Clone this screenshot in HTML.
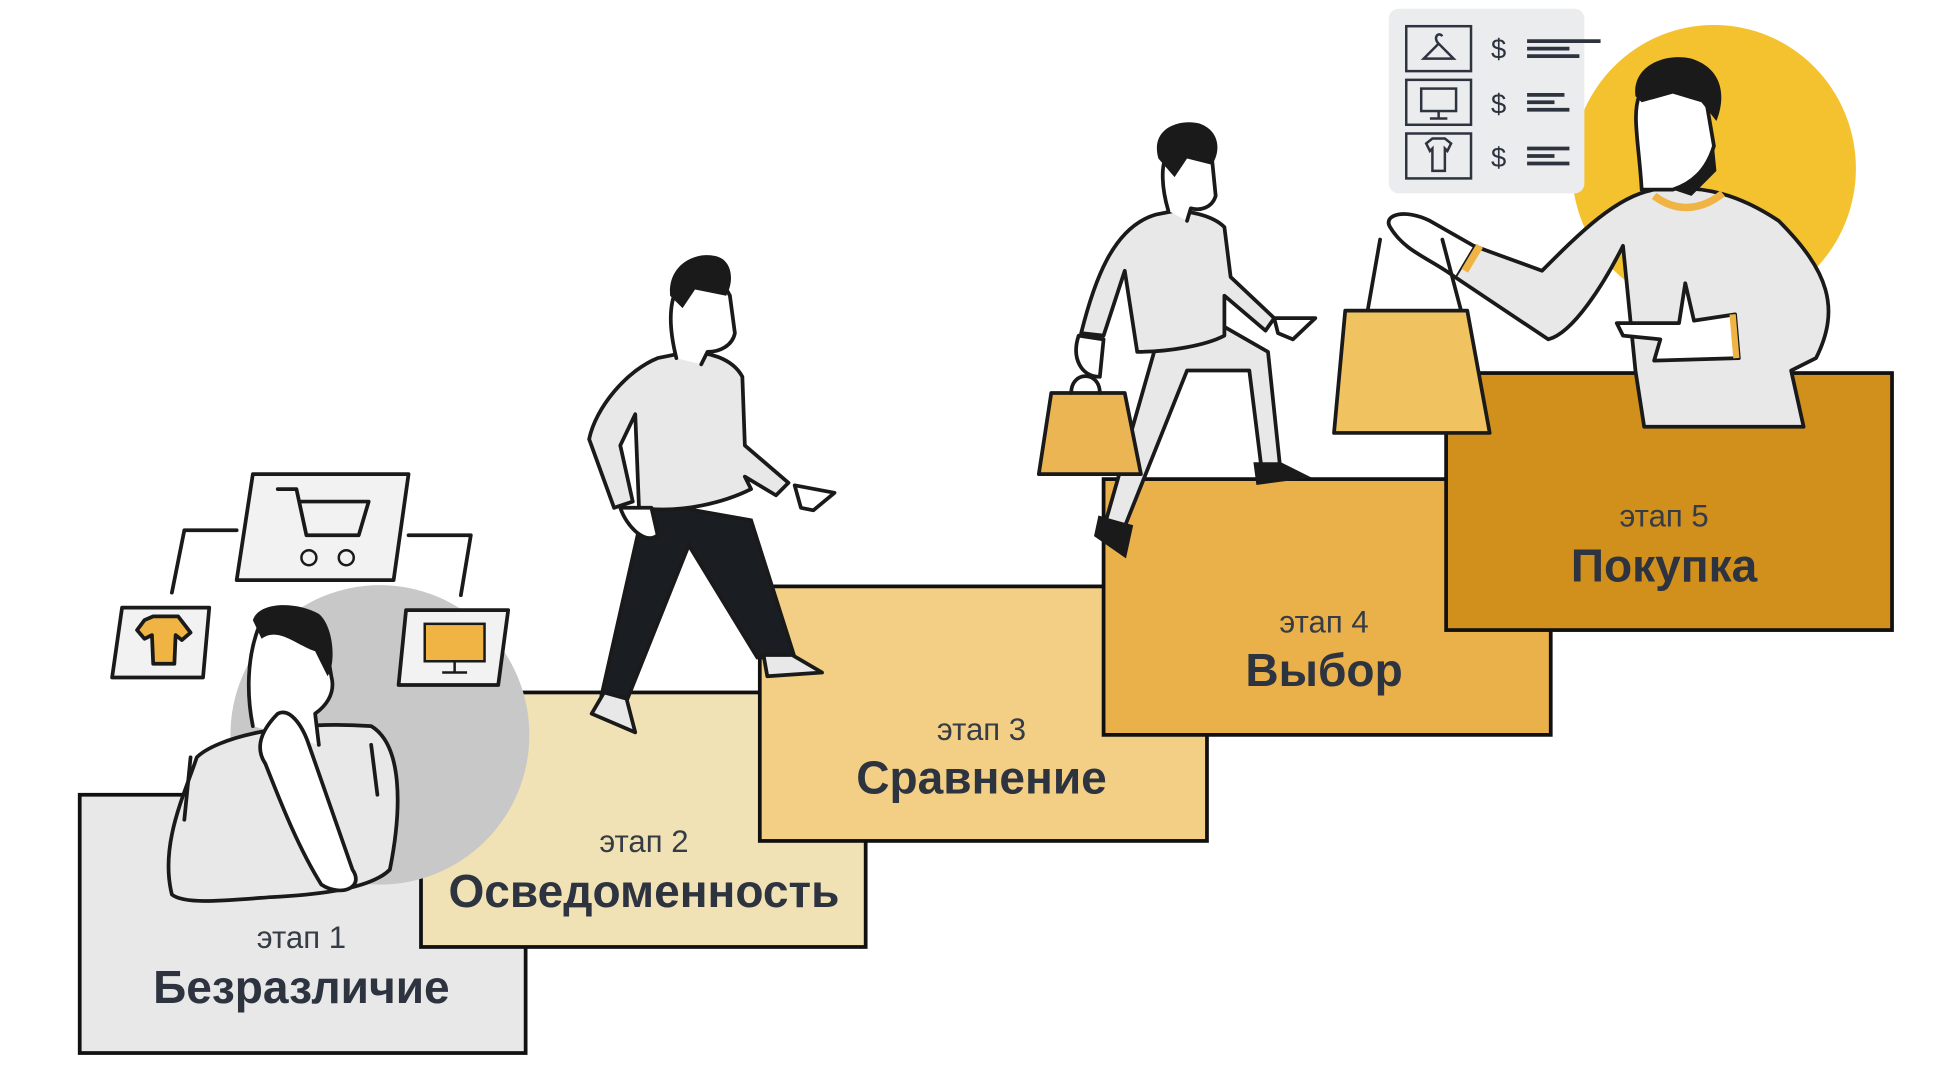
<!DOCTYPE html>
<html><head><meta charset="utf-8"><style>
html,body{margin:0;padding:0;background:#fff;width:1947px;height:1068px;overflow:hidden}
svg{display:block}
.s{font-family:"Liberation Sans",sans-serif;font-size:25px;fill:#363c46;text-anchor:middle}
.t{font-family:"Liberation Sans",sans-serif;font-size:37px;font-weight:bold;fill:#2d3440;text-anchor:middle}
.o{stroke:#1a1a1a;stroke-width:3;stroke-linejoin:round;stroke-linecap:round}
</style></head><body>
<svg width="1947" height="1068" viewBox="0 0 1560 856" preserveAspectRatio="none">
<g transform="translate(-2,-3) scale(0.998,1)">
<ellipse cx="1378" cy="138" rx="114" ry="115" fill="#f4c22e"/>
<rect x="66" y="640" width="358" height="207" fill="#e8e8e8" stroke="#111" stroke-width="3"/>
<rect x="340" y="558" width="357" height="204" fill="#f1e2b5" stroke="#111" stroke-width="3"/>
<circle cx="307" cy="592" r="120" fill="#c8c8c8"/>
<path class="o" d="M140 720 C130 680 150 640 160 610 C175 595 230 580 300 585 C325 600 325 650 315 700 C300 715 260 720 220 722 C180 725 150 728 140 720Z" fill="#e8e8e8"/>
<path class="o" d="M205 585 C200 560 200 530 210 505 C220 488 255 490 262 510 L268 545 C272 560 262 570 255 575 L258 600" fill="#fff"/>
<path d="M205 500 C210 485 240 485 258 495 C270 505 272 535 265 545 L255 525 C240 520 225 505 212 515Z" fill="#1a1a1a"/>
<path class="o" d="M225 575 C215 585 205 600 215 615 C225 640 240 680 260 712 C275 722 295 715 285 700 L250 600 C245 585 235 570 225 575Z" fill="#fff"/>
<path class="o" d="M155 610 L150 660 M300 600 L305 640" fill="none"/>
<rect x="612" y="473" width="359" height="204" fill="#f2cf85" stroke="#111" stroke-width="3"/>
<rect x="888" y="387" width="359" height="205" fill="#eab04a" stroke="#111" stroke-width="3"/>
<rect x="1163" y="302" width="358" height="206" fill="#d18f1c" stroke="#111" stroke-width="3"/>
<path class="o" d="M192 428 L150 428 L140 478 M330 432 L380 432 L372 480" fill="none" stroke-width="2"/>
<polygon class="o" points="205,383 330,383 318,468 192,468" fill="#f2f2f2" stroke-width="2"/>
<path class="o" d="M225 395 L240 395 L248 432 L290 432 L298 405 L243 405" fill="none" stroke-width="2.5"/>
<circle cx="250" cy="450" r="6" fill="none" stroke="#1a1a1a" stroke-width="2"/><circle cx="280" cy="450" r="6" fill="none" stroke="#1a1a1a" stroke-width="2"/>
<polygon class="o" points="100,490 170,490 165,546 92,546" fill="#f2f2f2" stroke-width="2"/>
<path class="o" d="M118 500 L125 497 L145 497 L155 510 L148 516 L143 512 L142 535 L125 535 L124 512 L118 515 L112 508Z" fill="#efb443" stroke-width="2"/>
<polygon class="o" points="328,492 410,492 402,552 322,552" fill="#f2f2f2" stroke-width="2"/>
<rect x="343" y="503" width="48" height="30" fill="#efb443" stroke="#1a1a1a" stroke-width="2"/>
<path d="M367 533 L367 541 M357 542 L377 542" stroke="#1a1a1a" stroke-width="2"/>
<path d="M520 405 L485 560 L505 565 L555 440 L610 530 L640 530 L605 420 Z" fill="#1a1d22" stroke="#1a1a1a" stroke-width="3"/>
<path class="o" d="M487 558 L477 575 L512 590 L505 563Z M615 528 L618 545 L662 542 L638 528Z" fill="#e8e8e8"/>
<path class="o" d="M530 290 C505 300 480 330 475 355 L495 410 L510 405 L500 360 L512 335 L515 410 C550 415 585 405 605 395 L600 385 L625 400 L635 390 L600 360 L598 305 C590 290 570 285 555 285Z" fill="#e8e8e8"/>
<path class="o" d="M545 290 C540 270 538 250 545 235 C555 220 580 222 588 240 L592 270 C590 280 580 285 570 285 L565 295" fill="#fff"/>
<path d="M540 240 C538 215 560 205 575 208 C590 210 592 228 585 240 L560 235 L550 250Z" fill="#1a1a1a"/>
<path class="o" d="M640 392 L672 398 L655 412 L645 410Z M500 410 C505 425 520 440 530 432 L525 410Z" fill="#fff"/>
<path class="o" d="M930 280 L890 420 L905 425 L955 300 L1005 300 L1015 380 L1030 380 L1020 285 L985 265Z" fill="#e8e8e8"/>
<path d="M885 418 L882 432 L905 448 L910 425Z M1010 375 L1012 390 L1050 385 L1030 375Z" fill="#1a1a1a" stroke="#1a1a1a" stroke-width="3"/>
<path class="o" d="M930 175 C895 185 880 230 870 270 L888 272 L905 220 L915 285 C940 285 970 280 985 272 L985 240 L1018 268 L1025 258 L990 225 L985 185 C975 175 955 172 945 172Z" fill="#e8e8e8"/>
<path class="o" d="M940 172 C935 155 933 135 940 125 C950 115 970 118 975 130 L978 160 C975 170 965 172 958 170 L955 180" fill="#fff"/>
<path d="M932 130 C925 105 950 98 965 102 C982 108 982 125 975 135 L955 130 L945 145Z" fill="#1a1a1a"/>
<path class="o" d="M1025 258 L1058 258 L1040 275 L1028 270Z M868 272 C862 290 870 305 885 305 L888 275Z" fill="#fff"/>
<polygon class="o" points="846,318 905,318 918,383 836,383" fill="#ecb553" stroke-width="2.5"/>
<path class="o" d="M862 318 C862 300 885 300 885 318" fill="none" stroke-width="2"/>
<rect x="1117" y="10" width="157" height="148" rx="8" fill="#ebecee"/>
<g stroke="#2d3440" stroke-width="2" fill="none">
<rect x="1131" y="24" width="52" height="36"/><rect x="1131" y="67" width="52" height="36"/><rect x="1131" y="110" width="52" height="36"/>
<path d="M1145 50 L1157 38 L1169 50Z M1157 38 C1152 33 1157 28 1160 32"/>
<rect x="1143" y="74" width="28" height="18"/><path d="M1157 92 L1157 98 M1150 98 L1164 98"/>
<path d="M1147 118 L1152 114 L1162 114 L1167 118 L1164 124 L1162 122 L1162 140 L1152 140 L1152 122 L1150 124Z"/>
<path d="M1228 36 L1287 36 M1228 42 L1262 42 M1228 48 L1270 48 M1228 79 L1258 79 M1228 85 L1250 85 M1228 91 L1262 91 M1228 122 L1262 122 M1228 128 L1250 128 M1228 134 L1262 134" stroke-width="3"/>
</g>
<g font-family="Liberation Sans,sans-serif" font-size="22" fill="#2d3440"><text x="1199" y="50">$</text><text x="1199" y="94">$</text><text x="1199" y="137">$</text></g>
<path class="o" d="M1330 155 C1300 160 1270 190 1240 220 L1185 200 L1170 225 L1245 275 C1265 270 1290 230 1305 200 L1315 300 L1322 345 L1450 345 L1440 300 L1460 290 C1480 250 1470 220 1430 180 C1400 160 1370 150 1330 155Z" fill="#e8e8e8"/>
<path d="M1330 160 C1350 175 1370 170 1385 158" stroke="#efb443" stroke-width="6" fill="none"/>
<path class="o" d="M1320 155 C1318 120 1312 95 1318 80 C1330 65 1365 70 1372 85 L1378 120 C1372 140 1360 150 1345 155 Z" fill="#fff"/>
<path d="M1315 80 C1312 55 1340 45 1360 50 C1385 58 1388 80 1380 100 L1368 85 L1345 78 L1320 85Z M1345 155 C1360 150 1375 140 1378 120 L1380 140 L1360 160Z" fill="#1a1a1a"/>
<path class="o" d="M1300 262 L1350 262 L1355 230 L1362 260 L1395 255 L1398 290 L1330 292 L1335 275 L1305 272Z" fill="#fff"/>
<path d="M1393 255 L1396 290" stroke="#efb443" stroke-width="5"/>
<path class="o" d="M1170 225 C1150 210 1130 205 1118 185 C1112 175 1130 170 1150 180 L1185 200" fill="#fff"/>
<path d="M1178 220 L1190 200" stroke="#efb443" stroke-width="6"/>
<path class="o" d="M1100 252 L1110 195 M1160 195 L1175 252" fill="none" stroke-width="2"/>
<polygon class="o" points="1082,252 1180,252 1198,350 1073,350" fill="#f0c260" stroke-width="2.5"/>
<text class="s" x="244" y="763">этап 1</text><text class="t" x="244" y="807">Безразличие</text>
<text class="s" x="519" y="686">этап 2</text><text class="t" x="519" y="730">Осведоменность</text>
<text class="s" x="790" y="596">этап 3</text><text class="t" x="790" y="639">Сравнение</text>
<text class="s" x="1065" y="510">этап 4</text><text class="t" x="1065" y="553">Выбор</text>
<text class="s" x="1338" y="425">этап 5</text><text class="t" x="1338" y="469">Покупка</text>
</g>
</svg>
</body></html>
